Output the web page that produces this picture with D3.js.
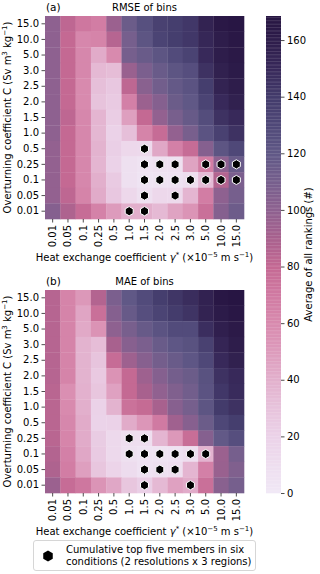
<!DOCTYPE html>
<html>
<head>
<meta charset="utf-8">
<script src="https://cdn.jsdelivr.net/npm/d3@7"></script>
<style>
  body { margin: 0; background: #fff; }
  svg { font-family: "DejaVu Sans", sans-serif; }
</style>
</head>
<body>
<script>
// heat exchange coefficient (columns) and overturning coefficient (rows)
const xCats = ["0.01","0.05","0.1","0.25","0.5","1.0","1.5","2.0","2.5","3.0","5.0","10.0","15.0"];
const yCats = ["15.0","10.0","5.0","3.0","2.5","2.0","1.5","1.0","0.5","0.25","0.1","0.05","0.01"];

// average ranking, one row per yCats entry
const rmseRanks = [
  [100, 82, 72, 68, 95, 115, 125, 135, 138, 142, 155, 165, 167],
  [100, 80, 62, 64, 85, 110, 122, 133, 138, 142, 152, 160, 165],
  [100, 80, 62, 42, 60, 110, 116, 122, 128, 134, 150, 160, 164],
  [100, 80, 62, 35, 33, 96, 108, 116, 122, 126, 145, 157, 162],
  [100, 80, 60, 32, 27, 82, 102, 112, 118, 123, 138, 155, 160],
  [100, 80, 60, 30, 25, 66, 95, 104, 115, 120, 133, 150, 157],
  [100, 82, 62, 37, 23, 48, 80, 98, 109, 117, 127, 145, 150],
  [100, 80, 62, 36, 20, 32, 64, 78, 98, 109, 123, 135, 145],
  [98, 80, 62, 38, 22, 15, 14, 44, 66, 78, 104, 122, 130],
  [98, 80, 62, 37, 20, 8, 5, 8, 8, 46, 68, 100, 116],
  [98, 80, 62, 40, 25, 8, 4, 5, 6, 10, 34, 86, 108],
  [98, 82, 64, 42, 27, 15, 8, 15, 14, 37, 68, 100, 110],
  [104, 88, 78, 65, 50, 40, 40, 35, 46, 54, 76, 104, 114]
];
const maeRanks = [
  [85, 64, 52, 86, 108, 120, 128, 138, 143, 148, 156, 166, 168],
  [85, 64, 45, 76, 104, 117, 126, 133, 139, 144, 155, 162, 166],
  [85, 64, 43, 55, 100, 109, 117, 123, 128, 128, 147, 158, 163],
  [85, 64, 38, 33, 90, 103, 108, 116, 121, 124, 135, 153, 160],
  [85, 64, 38, 29, 78, 94, 103, 111, 116, 121, 130, 150, 157],
  [85, 64, 38, 26, 55, 80, 94, 104, 111, 115, 124, 145, 150],
  [84, 57, 39, 28, 47, 80, 90, 99, 106, 112, 123, 142, 149],
  [84, 60, 40, 20, 38, 75, 79, 90, 103, 110, 122, 140, 145],
  [84, 62, 42, 19, 20, 42, 53, 70, 93, 103, 115, 131, 138],
  [84, 63, 42, 24, 14, 10, 10, 37, 52, 77, 104, 119, 126],
  [86, 66, 44, 25, 14, 8, 5, 5, 6, 10, 38, 95, 110],
  [88, 68, 48, 28, 18, 12, 6, 8, 10, 37, 66, 96, 106],
  [95, 78, 72, 54, 44, 28, 22, 35, 47, 42, 76, 102, 110]
];

// cumulative top five members [x, y]
const rmseTop = [
  ["1.5","0.5"],
  ["1.5","0.25"],["2.0","0.25"],["2.5","0.25"],["5.0","0.25"],["10.0","0.25"],["15.0","0.25"],
  ["1.5","0.1"],["2.0","0.1"],["2.5","0.1"],["3.0","0.1"],["5.0","0.1"],["10.0","0.1"],["15.0","0.1"],
  ["1.5","0.05"],["2.5","0.05"],
  ["1.0","0.01"],["1.5","0.01"]
];
const maeTop = [
  ["1.0","0.25"],["1.5","0.25"],
  ["1.0","0.1"],["1.5","0.1"],["2.0","0.1"],["2.5","0.1"],["3.0","0.1"],["5.0","0.1"],
  ["1.5","0.05"],["2.0","0.05"],["2.5","0.05"],
  ["1.5","0.01"],["3.0","0.01"]
];

const cbTicks = [0, 20, 40, 60, 80, 100, 120, 140, 160];
const cbMax = 168.5;

const W = 320, H = 574;
const svg = d3.select("body").append("svg").attr("width", W).attr("height", H);

const colour = d3.scaleLinear()
  .domain([0, 10, 20, 30, 40, 50, 60, 70, 80, 90, 100, 110, 120, 130, 140, 150, 160, cbMax])
  .range(["#f0e8f6", "#eedeef", "#ebd2e8", "#e7c3dc", "#e2afcc", "#dd9bbc", "#d88aae", "#d07aa2",
          "#c46993", "#a8618e", "#8e6190", "#765f8d", "#605886", "#4f4878", "#433b6b", "#38295a",
          "#2e1d4b", "#271542"])
  .interpolate(d3.interpolateLab);

const x = d3.scaleBand().domain(xCats).range([45, 244]);

// pointy-top hexagon
function hexagon(r) {
  const pts = d3.range(6).map(i => {
    const a = Math.PI / 3 * i - Math.PI / 2;
    return [r * Math.cos(a), r * Math.sin(a)];
  });
  return "M" + pts.join("L") + "Z";
}

function drawPanel(top, data, tops, letter, title) {
  const y = d3.scaleBand().domain(yCats).range([top, top + 203]);
  const g = svg.append("g");

  yCats.forEach((yc, i) => {
    g.selectAll(null).data(data[i]).enter().append("rect")
      .attr("x", (d, j) => x(xCats[j]))
      .attr("y", y(yc))
      .attr("width", x.bandwidth() + 0.3)
      .attr("height", y.bandwidth() + 0.3)
      .attr("fill", d => colour(d));
  });

  g.selectAll("path.top").data(tops).enter().append("path")
    .attr("class", "top")
    .attr("d", hexagon(4.6))
    .attr("transform", d => `translate(${x(d[0]) + x.bandwidth() / 2},${y(d[1]) + y.bandwidth() / 2})`)
    .attr("fill", "#000").attr("stroke", "#fff").attr("stroke-width", 1);

  const ax = g.append("g").attr("transform", `translate(45,0)`)
    .call(d3.axisLeft(y).tickSize(3.5).tickPadding(2.5));
  ax.select(".domain").remove();
  ax.selectAll("text").attr("font-size", 10).attr("font-family", "DejaVu Sans").attr("fill", "#000");
  ax.selectAll("line").attr("stroke", "#222").attr("stroke-width", 0.8);

  const bx = g.append("g").attr("transform", `translate(0,${top + 203})`)
    .call(d3.axisBottom(x).tickSize(3.5).tickPadding(2.5));
  bx.select(".domain").remove();
  bx.selectAll("line").attr("stroke", "#222").attr("stroke-width", 0.8);
  bx.selectAll("text")
    .attr("font-size", 10).attr("font-family", "DejaVu Sans").attr("fill", "#000")
    .attr("transform", "rotate(-90)")
    .attr("text-anchor", "end")
    .attr("x", -6).attr("y", 0).attr("dy", "0.35em");

  svg.append("text").attr("x", 46).attr("y", top - 5)
    .attr("font-size", 10.5).text(letter);
  svg.append("text").attr("x", 144.5).attr("y", top - 5)
    .attr("font-size", 10).attr("text-anchor", "middle").text(title);

  const xl = svg.append("text").attr("x", 144.5).attr("y", top + 245)
    .attr("font-size", 10).attr("text-anchor", "middle");
  xl.append("tspan").text("Heat exchange coefficient ");
  xl.append("tspan").attr("font-style", "italic").text("γ");
  xl.append("tspan").attr("font-size", 7).attr("dy", -4).text("*");
  xl.append("tspan").attr("dy", 4).text(" (×10");
  xl.append("tspan").attr("font-size", 7).attr("dy", -4).text("−5");
  xl.append("tspan").attr("dy", 4).text(" m s");
  xl.append("tspan").attr("font-size", 7).attr("dy", -4).text("−1");
  xl.append("tspan").attr("dy", 4).text(")");

  const yl = svg.append("text")
    .attr("transform", `translate(11,${top + 101.5}) rotate(-90)`)
    .attr("font-size", 10).attr("text-anchor", "middle");
  yl.append("tspan").text("Overturning coefficient C (Sv m");
  yl.append("tspan").attr("font-size", 7).attr("dy", -4).text("3");
  yl.append("tspan").attr("dy", 4).text(" kg");
  yl.append("tspan").attr("font-size", 7).attr("dy", -4).text("−1");
  yl.append("tspan").attr("dy", 4).text(")");
}

drawPanel(16, rmseRanks, rmseTop, "(a)", "RMSE of bins");
drawPanel(290, maeRanks, maeTop, "(b)", "MAE of bins");

// colorbar
const cbY = d3.scaleLinear().domain([0, cbMax]).range([493, 16]);
const steps = d3.range(0, cbMax, 0.5);
svg.append("g").selectAll("rect").data(steps).enter().append("rect")
  .attr("x", 266).attr("width", 15)
  .attr("y", d => cbY(Math.min(d + 0.5, cbMax)))
  .attr("height", d => cbY(d) - cbY(Math.min(d + 0.5, cbMax)) + 0.3)
  .attr("fill", d => colour(d + 0.25));

const cbAxis = svg.append("g").attr("transform", "translate(281,0)")
  .call(d3.axisRight(cbY).tickValues(cbTicks).tickSize(3.5).tickPadding(2.5));
cbAxis.select(".domain").remove();
cbAxis.selectAll("line").attr("stroke", "#222").attr("stroke-width", 0.8);
cbAxis.selectAll("text").attr("font-size", 10).attr("font-family", "DejaVu Sans").attr("fill", "#000");

svg.append("text")
  .attr("transform", `translate(312,254.5) rotate(-90)`)
  .attr("font-size", 10).attr("text-anchor", "middle")
  .text("Average of all rankings (#)");

// legend
const lg = svg.append("g");
lg.append("rect").attr("x", 33.5).attr("y", 540.5).attr("width", 222).attr("height", 30)
  .attr("rx", 2.5).attr("fill", "#fff").attr("stroke", "#ccc").attr("stroke-width", 0.8);
lg.append("path").attr("d", hexagon(5.5)).attr("transform", "translate(48,556)").attr("fill", "#000");
lg.append("text").attr("x", 66).attr("y", 552.5).attr("font-size", 10)
  .text("Cumulative top five members in six");
lg.append("text").attr("x", 66).attr("y", 564.5).attr("font-size", 10)
  .text("conditions (2 resolutions x 3 regions)");
</script>
</body>
</html>
